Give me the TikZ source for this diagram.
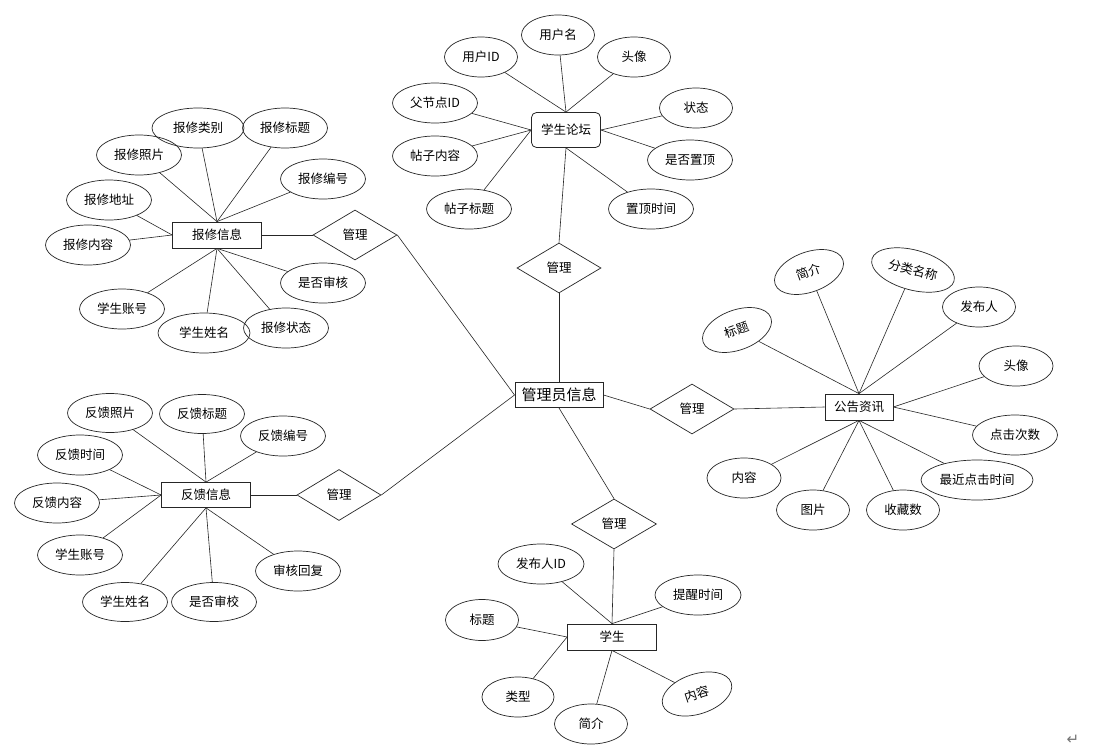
\documentclass[tikz,border=0pt]{standalone}
\usepackage{fontspec}
\setmainfont{Noto Sans CJK SC}
\newfontfamily\dejavu{DejaVu Sans}
\usetikzlibrary{shapes.geometric}
\begin{document}
\begin{tikzpicture}[x=1pt,y=-1pt,
  attr/.style={draw=black!85, line width=0.7pt, ellipse, inner sep=0pt, minimum width=85pt, minimum height=40pt, font=\fontsize{12.5}{14}\selectfont},
  attrs/.style={attr, minimum width=73pt},
  ent/.style={draw=black!85, line width=0.8pt, rectangle, inner sep=0pt, minimum width=89pt, minimum height=26pt, font=\fontsize{12.5}{14}\selectfont},
  rel/.style={draw=black!85, line width=0.7pt, diamond, inner sep=0pt, minimum width=84pt, minimum height=50pt, font=\fontsize{12.5}{14}\selectfont},
  conn/.style={draw=black!85, line width=0.6pt}]
\useasboundingbox[fill=white] (0,0) rectangle (1098,752);

% ---------- central ----------
\node[ent, minimum width=88pt, minimum height=25pt, font=\fontsize{15}{17}\selectfont, line width=1pt] (admin) at (559,395) {管理员信息};

% ---------- forum ----------
\node[ent, rounded corners=5pt, minimum width=69pt, minimum height=35pt] (forum) at (566,130) {学生论坛};
\node[attrs] (f1) at (558,35) {用户名};
\node[attrs] (f2) at (481,57) {用户ID};
\node[attrs] (f3) at (634,57) {头像};
\node[attr] (f4) at (435,103) {父节点ID};
\node[attrs] (f5) at (696,108) {状态};
\node[attr] (f6) at (435,156) {帖子内容};
\node[attr] (f7) at (690,160) {是否置顶};
\node[attr] (f8) at (469,209) {帖子标题};
\node[attr] (f9) at (651,209) {置顶时间};
\node[rel] (d1) at (559,268) {管理};
\draw[conn] (f1) -- (forum.north);
\draw[conn] (f2) -- (forum.north);
\draw[conn] (f3) -- (forum.north);
\draw[conn] (f4) -- (forum.west);
\draw[conn] (f6) -- (forum.west);
\draw[conn] (f8) -- (forum.west);
\draw[conn] (f5) -- (forum.east);
\draw[conn] (f7) -- (forum.east);
\draw[conn] (f9) -- (forum.south);
\draw[conn] (d1.north) -- (forum.south);
\draw[conn] (d1.south) -- (admin.north);

% ---------- repair ----------
\node[ent] (rep) at (217,235) {报修信息};
\node[attr, minimum width=92pt] (r1) at (198,128) {报修类别};
\node[attr] (r2) at (285,128) {报修标题};
\node[attr] (r3) at (139,155) {报修照片};
\node[attr] (r4) at (323,179) {报修编号};
\node[attr] (r5) at (109,200) {报修地址};
\node[attr] (r6) at (88,245) {报修内容};
\node[attr] (r7) at (323,283) {是否审核};
\node[attr] (r8) at (122,309) {学生账号};
\node[attr, minimum width=92pt] (r9) at (204,333) {学生姓名};
\node[attr] (r10) at (286,328) {报修状态};
\node[rel] (d2) at (355,235) {管理};
\draw[conn] (r1) -- (rep.north);
\draw[conn] (r2) -- (rep.north);
\draw[conn] (r3) -- (rep.north);
\draw[conn] (r4) -- (rep.north);
\draw[conn] (r5) -- (rep.west);
\draw[conn] (r6) -- (rep.west);
\draw[conn] (r7) -- (rep.south);
\draw[conn] (r8) -- (rep.south);
\draw[conn] (r9) -- (rep.south);
\draw[conn] (r10) -- (rep.south);
\draw[conn] (rep.east) -- (d2.west);
\draw[conn] (d2.east) -- (admin.west);

% ---------- feedback ----------
\node[ent, minimum height=25pt] (fb) at (206,495) {反馈信息};
\node[attr, minimum height=39pt] (b1) at (110,413) {反馈照片};
\node[attr, minimum height=39pt] (b2) at (202,414) {反馈标题};
\node[attr] (b3) at (283,436) {反馈编号};
\node[attr] (b4) at (80,455) {反馈时间};
\node[attr] (b5) at (57,503) {反馈内容};
\node[attr] (b6) at (80,555) {学生账号};
\node[attr, minimum height=39pt] (b7) at (125,602) {学生姓名};
\node[attr, minimum height=39pt] (b8) at (214,602) {是否审校};
\node[attr] (b9) at (298,571) {审核回复};
\node[rel, minimum height=51pt] (d3) at (339,495) {管理};
\draw[conn] (b1) -- (fb.north);
\draw[conn] (b2) -- (fb.north);
\draw[conn] (b3) -- (fb.north);
\draw[conn] (b4) -- (fb.west);
\draw[conn] (b5) -- (fb.west);
\draw[conn] (b6) -- (fb.west);
\draw[conn] (b7) -- (fb.south);
\draw[conn] (b8) -- (fb.south);
\draw[conn] (b9) -- (fb.south);
\draw[conn] (fb.east) -- (d3.west);
\draw[conn] (d3.east) -- (admin.west);

% ---------- announcement ----------
\node[ent, minimum width=68pt] (ann) at (859,407) {公告资讯};
\node[attrs, minimum width=72pt, rotate=20] (a1) at (737,330) {标题};
\node[attrs, minimum width=72pt, rotate=20] (a2) at (809,272) {简介};
\node[attr, rotate=-15] (a3) at (913,270) {分类名称};
\node[attrs] (a4) at (979,307) {发布人};
\node[attrs, minimum width=74pt] (a5) at (1016,366) {头像};
\node[attr] (a6) at (1015,435) {点击次数};
\node[attr, minimum width=112pt] (a7) at (977,480) {最近点击时间};
\node[attrs] (a8) at (903,510) {收藏数};
\node[attrs] (a9) at (813,510) {图片};
\node[attrs, minimum width=74pt] (a10) at (744,478) {内容};
\node[rel] (d4) at (692,409) {管理};
\draw[conn] (a1) -- (ann.north);
\draw[conn] (a2) -- (ann.north);
\draw[conn] (a3) -- (ann.north);
\draw[conn] (a4) -- (ann.north);
\draw[conn] (a5) -- (ann.east);
\draw[conn] (a6) -- (ann.east);
\draw[conn] (a7) -- (ann.south);
\draw[conn] (a8) -- (ann.south);
\draw[conn] (a9) -- (ann.south);
\draw[conn] (a10) -- (ann.south);
\draw[conn] (admin.east) -- (d4.west);
\draw[conn] (d4.east) -- (ann.west);

% ---------- student ----------
\node[ent] (stu) at (612,637) {学生};
\node[attr, minimum width=86pt] (s1) at (541,564) {发布人ID};
\node[attr, minimum width=86pt] (s2) at (698,595) {提醒时间};
\node[attrs, minimum height=41pt] (s3) at (482,620) {标题};
\node[attrs, minimum width=72pt] (s4) at (518,697) {类型};
\node[attrs] (s5) at (591,724) {简介};
\node[attrs, minimum width=72pt, rotate=18] (s6) at (697,694) {内容};
\node[rel, minimum width=85pt] (d5) at (614,524) {管理};
\draw[conn] (admin.south) -- (d5.north);
\draw[conn] (d5.south) -- (stu.north);
\draw[conn] (s1) -- (stu.north);
\draw[conn] (s2) -- (stu.north);
\draw[conn] (s3) -- (stu.west);
\draw[conn] (s4) -- (stu.west);
\draw[conn] (s5) -- (stu.south);
\draw[conn] (s6) -- (stu.south);

% paragraph mark
\node[text=black!55, font=\dejavu\fontsize{15}{16}\selectfont, inner sep=0pt] (pm) at (1073,740) {↵};
\end{tikzpicture}
\end{document}
